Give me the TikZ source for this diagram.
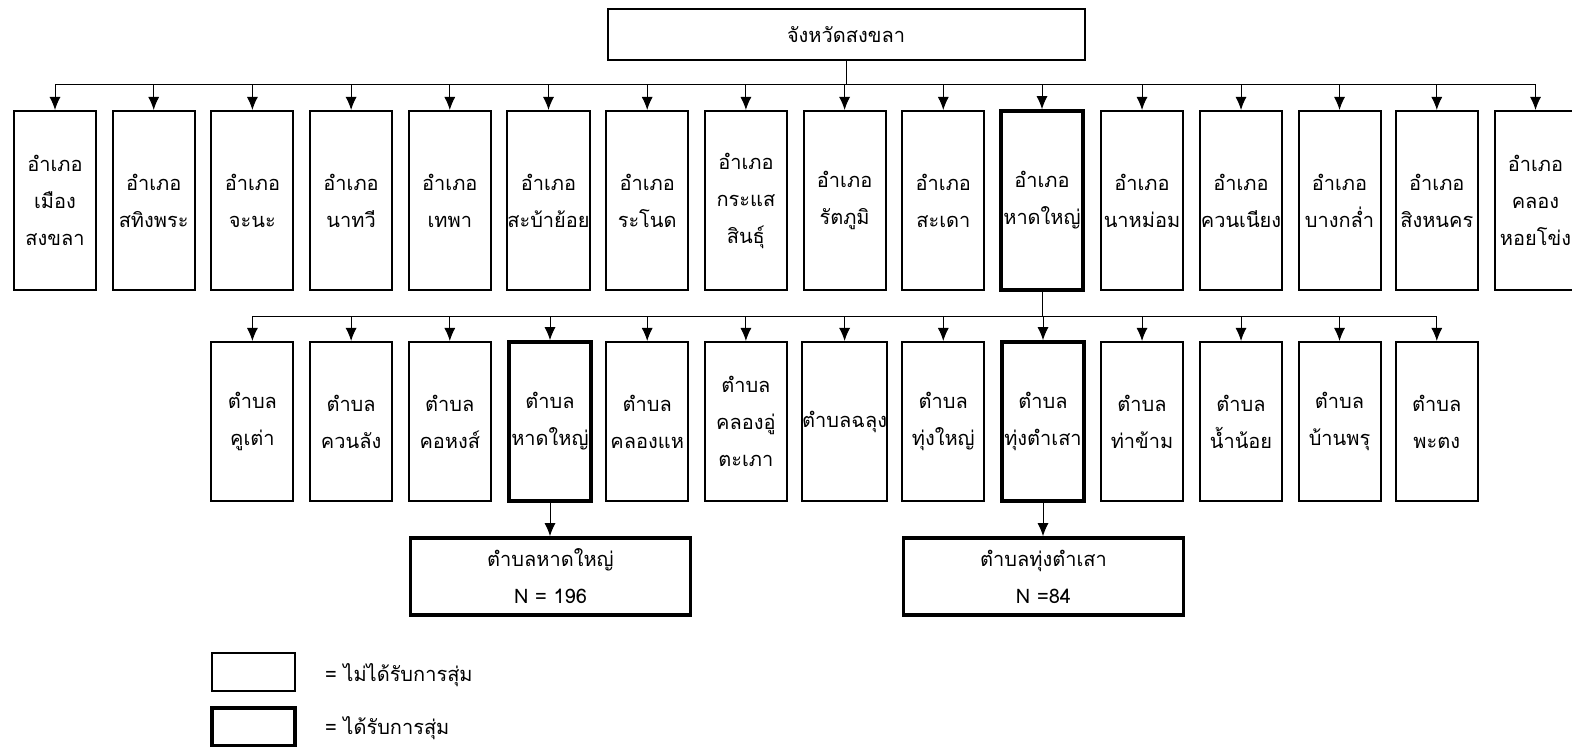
\documentclass[tikz,border=0pt]{standalone}
\usepackage{fontspec}
\setmainfont[Script=Thai]{Loma}
\usetikzlibrary{arrows.meta}

\tikzset{
  box/.style={draw,line width=1pt,align=center,inner sep=0pt,
    font=\fontsize{10}{18.5}\selectfont},
  amphoe/.style={box,minimum width=41pt,minimum height=89.5pt},
  tambon/.style={box,minimum width=41pt,minimum height=79.5pt},
  sample/.style={box,minimum width=140pt,minimum height=38.5pt},
  chosen/.style={line width=1.8pt},
  arr/.style={-{Latex[length=6.5pt,width=5.5pt]},line width=0.5pt},
  link/.style={line width=0.5pt}
}

\begin{document}
\begin{tikzpicture}[x=0.5pt,y=-0.5pt]

      \useasboundingbox (0,0) rectangle (1572,747);

      % province
      \node[box,minimum width=238.5pt,minimum height=25.5pt] (prov) at (846,34.5) {จังหวัดสงขลา};

      % districts
      \begin{scope}[every node/.style={amphoe}]
        \node (d1)  at (55,200.5)     {อำเภอ\\เมือง\\สงขลา};
        \node (d2)  at (153.7,200.5)  {อำเภอ\\สทิงพระ};
        \node (d3)  at (252.4,200.5)  {อำเภอ\\จะนะ};
        \node (d4)  at (351.1,200.5)  {อำเภอ\\นาทวี};
        \node (d5)  at (449.8,200.5)  {อำเภอ\\เทพา};
        \node (d6)  at (548.5,200.5)  {อำเภอ\\สะบ้าย้อย};
        \node (d7)  at (647.2,200.5)  {อำเภอ\\ระโนด};
        \node (d8)  at (745.9,200.5)  {อำเภอ\\กระแส\\สินธุ์};
        \node (d9)  at (844.6,200.5)  {อำเภอ\\รัตภูมิ};
        \node (d10) at (943.3,200.5)  {อำเภอ\\สะเดา};
        \node[chosen] (d11) at (1042,200.5) {อำเภอ\\หาดใหญ่};
        \node (d12) at (1142,200.5)   {อำเภอ\\นาหม่อม};
        \node (d13) at (1241,200.5)   {อำเภอ\\ควนเนียง};
        \node (d14) at (1339.5,200.5) {อำเภอ\\บางกล่ำ};
        \node (d15) at (1436.8,200.5) {อำเภอ\\สิงหนคร};
        \node (d16) at (1535.5,200.5) {อำเภอ\\คลอง\\หอยโข่ง};
      \end{scope}

      % sub-districts of Hat Yai
      \begin{scope}[every node/.style={tambon}]
        \node (s1)  at (252.4,421.5)  {ตำบล\\คูเต่า};
        \node (s2)  at (351.1,421.5)  {ตำบล\\ควนลัง};
        \node (s3)  at (449.8,421.5)  {ตำบล\\คอหงส์};
        \node[chosen] (s4) at (550,421.5) {ตำบล\\หาดใหญ่};
        \node (s5)  at (647.2,421.5)  {ตำบล\\คลองแห};
        \node (s6)  at (745.9,421.5)  {ตำบล\\คลองอู่\\ตะเภา};
        \node (s7)  at (844.6,421.5)  {ตำบลฉลุง};
        \node (s8)  at (943.3,421.5)  {ตำบล\\ทุ่งใหญ่};
        \node[chosen] (s9) at (1043,421.5) {ตำบล\\ทุ่งตำเสา};
        \node (s10) at (1142,421.5)   {ตำบล\\ท่าข้าม};
        \node (s11) at (1241,421.5)   {ตำบล\\น้ำน้อย};
        \node (s12) at (1339.5,421.5) {ตำบล\\บ้านพรุ};
        \node (s13) at (1436.8,421.5) {ตำบล\\พะตง};
      \end{scope}

      % samples
      \node[sample,chosen] (n1) at (550.5,576.5)  {ตำบลหาดใหญ่\\N = 196};
      \node[sample,chosen] (n2) at (1043.5,576.5) {ตำบลทุ่งตำเสา\\N =84};

      % legend
      \node[box,minimum width=41.5pt,minimum height=19pt] (key1) at (253.5,672) {};
      \node[box,chosen,minimum width=41.5pt,minimum height=19pt] (key2) at (253.5,727) {};
      \node[anchor=west,font=\fontsize{10}{12}\selectfont] (lab1) at (318,675) {= ไม่ได้รับการสุ่ม};
      \node[anchor=west,font=\fontsize{10}{12}\selectfont] (lab2) at (318,728) {= ได้รับการสุ่ม};

      % connectors
      \coordinate (dbus) at (0,85);
      \coordinate (sbus) at (0,317);
      \draw[link] (prov.south) -- (prov.south |- dbus);
      \draw[link] (d1.north |- dbus) -- (d16.north |- dbus);
      \draw[arr] (d1.north |- dbus)  -- (d1.north);
      \draw[arr] (d2.north |- dbus)  -- (d2.north);
      \draw[arr] (d3.north |- dbus)  -- (d3.north);
      \draw[arr] (d4.north |- dbus)  -- (d4.north);
      \draw[arr] (d5.north |- dbus)  -- (d5.north);
      \draw[arr] (d6.north |- dbus)  -- (d6.north);
      \draw[arr] (d7.north |- dbus)  -- (d7.north);
      \draw[arr] (d8.north |- dbus)  -- (d8.north);
      \draw[arr] (d9.north |- dbus)  -- (d9.north);
      \draw[arr] (d10.north |- dbus) -- (d10.north);
      \draw[arr] (d11.north |- dbus) -- (d11.north);
      \draw[arr] (d12.north |- dbus) -- (d12.north);
      \draw[arr] (d13.north |- dbus) -- (d13.north);
      \draw[arr] (d14.north |- dbus) -- (d14.north);
      \draw[arr] (d15.north |- dbus) -- (d15.north);
      \draw[arr] (d16.north |- dbus) -- (d16.north);

      \draw[link] (d11.south) -- (d11.south |- sbus);
      \draw[link] (s1.north |- sbus) -- (s13.north |- sbus);
      \draw[arr] (s1.north |- sbus)  -- (s1.north);
      \draw[arr] (s2.north |- sbus)  -- (s2.north);
      \draw[arr] (s3.north |- sbus)  -- (s3.north);
      \draw[arr] (s4.north |- sbus)  -- (s4.north);
      \draw[arr] (s5.north |- sbus)  -- (s5.north);
      \draw[arr] (s6.north |- sbus)  -- (s6.north);
      \draw[arr] (s7.north |- sbus)  -- (s7.north);
      \draw[arr] (s8.north |- sbus)  -- (s8.north);
      \draw[arr] (s9.north |- sbus)  -- (s9.north);
      \draw[arr] (s10.north |- sbus) -- (s10.north);
      \draw[arr] (s11.north |- sbus) -- (s11.north);
      \draw[arr] (s12.north |- sbus) -- (s12.north);
      \draw[arr] (s13.north |- sbus) -- (s13.north);

      \draw[arr] (s4.south) -- (s4.south |- n1.north);
      \draw[arr] (s9.south) -- (s9.south |- n2.north);

    \end{tikzpicture}
\end{document}
